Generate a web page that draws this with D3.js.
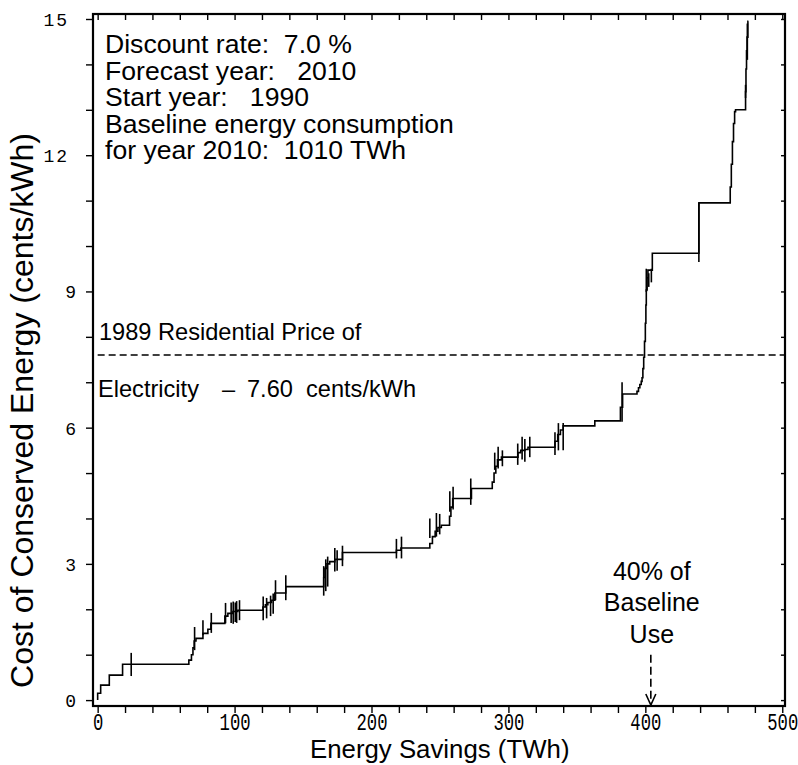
<!DOCTYPE html>
<html>
<head>
<meta charset="utf-8">
<script src="https://cdn.jsdelivr.net/npm/d3@7"></script>
<style>
  body { margin: 0; background: #fff; }
  svg { display: block; }
  .sans { font-family: "Liberation Sans", Arial, sans-serif; fill: #000; }
  .mono { font-family: "Liberation Mono", "Courier New", monospace; fill: #000; }
</style>
</head>
<body>
<svg id="chart" width="798" height="765"></svg>
<script>
// conservation supply curve: [cumulative savings TWh, cost cents/kWh] where each step begins
const steps = [
  [0, 0.15], [2.2, 0.33], [8.5, 0.55], [18.2, 0.79],
  [66.6, 0.88], [68.5, 1.0], [69.6, 1.15], [70.5, 1.3], [71.8, 1.36], [76.9, 1.47],
  [80.5, 1.56], [82.7, 1.69], [92.9, 1.85], [95.1, 1.91], [98.8, 1.95], [102.4, 1.98],
  [120.7, 2.05], [122.5, 2.1], [124.3, 2.15], [127, 2.2], [129.4, 2.36], [137.4, 2.5],
  [165.1, 2.7], [166, 2.9], [167.5, 3.0], [169.5, 3.05], [173.2, 3.1], [178.8, 3.25],
  [218.2, 3.3], [221.5, 3.35],
  [242.6, 3.45], [244.5, 3.6], [246.5, 3.72], [248.5, 3.8], [251, 3.85],
  [257, 4.05], [258, 4.25], [259.3, 4.44], [273, 4.66],
  [288.2, 4.8], [289.5, 5.0], [290.8, 5.15], [292, 5.29], [294.9, 5.35],
  [307, 5.45], [309, 5.5], [312, 5.52], [314.3, 5.57],
  [334, 5.7], [336, 5.85], [338, 5.95], [340, 6.04], [363.1, 6.15],
  [381.8, 6.45], [383.4, 6.74], [393.9, 6.8], [395, 6.88], [396, 6.95], [397, 7.02],
  [397.6, 7.1], [398.2, 7.3], [398.8, 7.55], [399.4, 7.9], [400, 8.3], [400.4, 8.7],
  [400.7, 9.03], [401.3, 9.3], [401.9, 9.47], [405.1, 9.84],
  [439.1, 10.95], [462, 11.3], [462.8, 11.8], [463.6, 12.3], [464.4, 12.7], [465.2, 12.96],
  [465.9, 13.0], [473.2, 13.4], [473.5, 13.9], [473.9, 14.3], [474.3, 14.6], [474.9, 14.95],
  [475.3, 14.95]
];

// short vertical marks on the curve: [TWh, low cost, high cost]
const marks = [
  [24.5, 0.53, 1.04],
  [70.8, 1.1, 1.61], [76.9, 1.43, 1.76], [83, 1.48, 1.92], [93.4, 1.69, 2.14],
  [97.5, 1.7, 2.15], [99, 1.68, 2.17], [100.5, 1.72, 2.15], [101.5, 1.7, 2.18], [103.6, 1.76, 2.2],
  [120.9, 1.76, 2.28], [123.4, 1.8, 2.25], [126.3, 1.85, 2.3], [128.2, 1.9, 2.35],
  [129.9, 2.2, 2.64], [137.4, 2.2, 2.75],
  [165.1, 2.3, 2.95], [166.6, 2.4, 3.1], [168, 2.5, 3.16],
  [173.2, 2.83, 3.35], [174.9, 2.85, 3.3], [178.8, 2.95, 3.4],
  [218.2, 3.12, 3.55], [221.9, 3.12, 3.6],
  [242.6, 3.57, 4.0], [247.4, 3.6, 4.12], [249.8, 3.65, 4.1],
  [257.2, 4.15, 4.6], [259.6, 4.2, 4.7], [272.5, 4.3, 4.88],
  [290, 5.07, 5.45], [292.5, 5.1, 5.58], [295.6, 5.15, 5.5],
  [306.8, 5.18, 5.65], [310, 5.3, 5.8], [312, 5.25, 5.75], [315.6, 5.35, 5.8],
  [334, 5.4, 5.9], [336.5, 5.5, 6.1], [340, 5.5, 6.1],
  [383, 6.13, 7.0],
  [400.7, 8.99, 9.5], [402.5, 9.1, 9.4], [404.4, 9.2, 9.5],
  [439.1, 9.65, 10.95],
  [473.2, 13.26, 13.55], [474.5, 14.1, 14.9]
];

const xMajorTicks = [0, 100, 200, 300, 400, 500];
const yMajorTicks = [0, 3, 6, 9, 12, 15];
const residentialPrice = 7.60;
const baselineUse = 1010;
const baselineShare = 0.4;

const infoLines = [
  "Discount rate:  7.0 %",
  "Forecast year:   2010",
  "Start year:   1990",
  "Baseline energy consumption",
  "for year 2010:  1010 TWh"
];
const noteLines = ["40% of", "Baseline", "Use"];

const svg = d3.select("#chart");
const plotLeft = 93, plotRight = 785, plotTop = 14, plotBottom = 706;

const x = d3.scaleLinear().domain([-3.4, 502]).range([plotLeft, plotRight]);
const y = d3.scaleLinear().domain([-0.13, 15.11]).range([plotBottom, plotTop]);

// minor/major ticks
const xMinor = d3.range(0, 501, 20);
const yMinor = d3.range(0, 16, 1);

function clean(g) {
  g.select(".domain").remove();
  g.selectAll(".tick line").attr("stroke", "#000").attr("stroke-width", 1.4);
}

svg.append("g")
  .attr("transform", `translate(0,${plotBottom})`)
  .call(d3.axisBottom(x).tickValues(xMinor).tickSize(7).tickFormat(""))
  .call(clean);

svg.append("g")
  .attr("transform", `translate(0,${plotTop})`)
  .call(d3.axisTop(x).tickValues(xMinor).tickSize(-6).tickFormat(""))
  .call(clean);

svg.append("g")
  .attr("transform", `translate(${plotLeft},0)`)
  .call(d3.axisLeft(y).tickValues(yMinor).tickSize(7).tickFormat(""))
  .call(clean);

svg.append("g")
  .attr("transform", `translate(${plotRight},0)`)
  .call(d3.axisRight(y).tickValues(yMinor).tickSize(-4).tickFormat(""))
  .call(clean);

// x tick labels (tall, narrow digits)
const xLab = svg.append("g")
  .attr("transform", `translate(0,${plotBottom})`)
  .call(d3.axisBottom(x).tickValues(xMajorTicks).tickSize(0).tickFormat(d3.format("d")));
xLab.select(".domain").remove();
xLab.selectAll("text")
  .attr("class", "mono")
  .attr("y", 24).attr("dy", 0)
  .attr("font-size", 23)
  .attr("transform", "scale(0.75,1)");

// y tick labels
const yLab = svg.append("g")
  .attr("transform", `translate(${plotLeft},0)`)
  .call(d3.axisLeft(y).tickValues(yMajorTicks).tickSize(0).tickFormat(d3.format("d")));
yLab.select(".domain").remove();
yLab.selectAll("text")
  .attr("class", "mono")
  .attr("font-size", 18)
  .attr("letter-spacing", 2)
  .attr("dy", "0.36em")
  .attr("x", d => d >= 10 ? -24 : -15);

// frame
svg.append("rect")
  .attr("x", plotLeft).attr("y", plotTop)
  .attr("width", plotRight - plotLeft).attr("height", plotBottom - plotTop)
  .attr("fill", "none").attr("stroke", "#000").attr("stroke-width", 2.2);

// price line
svg.append("line")
  .attr("x1", x(0)).attr("x2", plotRight)
  .attr("y1", y(residentialPrice)).attr("y2", y(residentialPrice))
  .attr("stroke", "#000").attr("stroke-width", 1.5)
  .attr("stroke-dasharray", "7,4");

// supply curve
const line = d3.line()
  .x(d => x(d[0]))
  .y(d => y(d[1]))
  .curve(d3.curveStepAfter);

svg.append("path")
  .datum([[0, 0]].concat(steps))
  .attr("d", line)
  .attr("fill", "none")
  .attr("stroke", "#000")
  .attr("stroke-width", 1.6);

svg.append("g")
  .selectAll("line")
  .data(marks)
  .join("line")
  .attr("x1", d => x(d[0])).attr("x2", d => x(d[0]))
  .attr("y1", d => y(d[1])).attr("y2", d => y(d[2]))
  .attr("stroke", "#000").attr("stroke-width", 1.6);

// info block, one text element with a line per tspan
svg.append("text")
  .attr("class", "sans")
  .attr("y", 53)
  .attr("font-size", 26.6)
  .style("white-space", "pre")
  .selectAll("tspan")
  .data(infoLines)
  .join("tspan")
  .attr("x", 105)
  .attr("dy", (d, i) => i === 0 ? 0 : 26.5)
  .text(d => d);

// price labels
svg.append("text")
  .attr("class", "sans")
  .attr("x", 99).attr("y", y(residentialPrice) - 15)
  .attr("font-size", 23.6)
  .text("1989 Residential Price of");

const priceText = svg.append("text")
  .attr("class", "sans")
  .attr("y", y(residentialPrice) + 42)
  .attr("font-size", 23.6);
priceText.append("tspan").attr("x", 98).text("Electricity");
priceText.append("tspan").attr("x", 222).text("\u2013");
priceText.append("tspan").attr("x", 247).text("7.60");
priceText.append("tspan").attr("x", 306).text("cents/kWh");

// 40% of baseline marker
const ax = x(baselineUse * baselineShare);
svg.append("line")
  .attr("x1", ax).attr("x2", ax)
  .attr("y1", y(1.0)).attr("y2", plotBottom - 1)
  .attr("stroke", "#000").attr("stroke-width", 1.6)
  .attr("stroke-dasharray", "8,4");
svg.append("path")
  .attr("d", `M${ax - 5},${plotBottom - 12}L${ax},${plotBottom - 1}L${ax + 5},${plotBottom - 12}`)
  .attr("fill", "none").attr("stroke", "#000").attr("stroke-width", 1.6);

svg.append("text")
  .attr("class", "sans")
  .attr("y", y(1.0) - 75)
  .attr("text-anchor", "middle")
  .attr("font-size", 25)
  .selectAll("tspan")
  .data(noteLines)
  .join("tspan")
  .attr("x", ax + 1)
  .attr("dy", (d, i) => i === 0 ? 0 : 31.5)
  .text(d => d);

// axis titles
svg.append("text")
  .attr("class", "sans")
  .attr("x", 310).attr("y", 758)
  .attr("font-size", 25.8)
  .text("Energy Savings (TWh)");

svg.append("text")
  .attr("class", "sans")
  .attr("transform", "translate(33,133) rotate(-90)")
  .attr("text-anchor", "end")
  .attr("font-size", 32)
  .text("Cost of Conserved Energy (cents/kWh)");
</script>
</body>
</html>
